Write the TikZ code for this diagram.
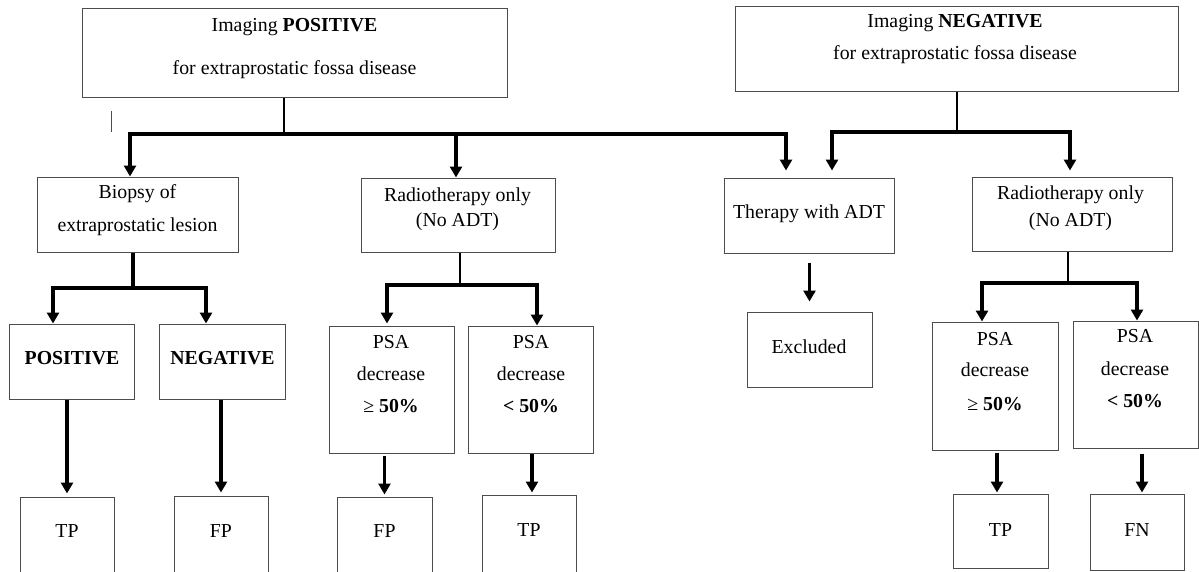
\documentclass[tikz,border=0pt]{standalone}
\usepackage{fontspec}
\setmainfont{Liberation Serif}
\usetikzlibrary{arrows.meta}
\begin{document}
\begin{tikzpicture}[x=1pt,y=-1pt,
  box/.style={draw=black!70, line width=1pt, inner sep=0pt},
  txt/.style={font=\fontsize{19.8}{22}\selectfont, inner sep=0pt, text height=13pt, text depth=4pt, anchor=center},
  arr/.style={line width=3.3pt, -{Triangle[length=11pt,width=12pt]}},
  stem/.style={line width=2.4pt},
  thinline/.style={line width=1pt, draw=black!70}]
\useasboundingbox (0,0) rectangle (1199,571);

% boxes
\node[box, minimum width=425pt, minimum height=89pt] (posimg) at (294.5,52.5) {};
\node[box, minimum width=443pt, minimum height=85pt] (negimg) at (956.5,48.5) {};
\node[box, minimum width=201pt, minimum height=75pt] (biopsy) at (137.5,214.5) {};
\node[box, minimum width=194pt, minimum height=74pt] (radio1) at (458,215) {};
\node[box, minimum width=170pt, minimum height=75pt] (adt) at (809,215.5) {};
\node[box, minimum width=200pt, minimum height=74pt] (radio2) at (1072,214) {};
\node[box, minimum width=125pt, minimum height=75pt] (pos) at (71.5,361.5) {};
\node[box, minimum width=126pt, minimum height=75pt] (neg) at (222,361.5) {};
\node[box, minimum width=125pt, minimum height=127pt] (psa1) at (391.5,389.5) {};
\node[box, minimum width=125pt, minimum height=127pt] (psa2) at (530.5,389.5) {};
\node[box, minimum width=125pt, minimum height=75pt] (excl) at (809.5,349.5) {};
\node[box, minimum width=126pt, minimum height=128pt] (psa3) at (995,386) {};
\node[box, minimum width=125pt, minimum height=127pt] (psa4) at (1135.5,384.5) {};
\node[box, minimum width=94pt, minimum height=75pt] (tp1) at (67,534.5) {};
\node[box, minimum width=94pt, minimum height=76pt] (fp1) at (221,534) {};
\node[box, minimum width=95pt, minimum height=75pt] (fp2) at (384.5,534.5) {};
\node[box, minimum width=94pt, minimum height=77pt] (tp2) at (529,533.5) {};
\node[box, minimum width=95pt, minimum height=74pt] (tp3) at (1000.5,531) {};
\node[box, minimum width=94pt, minimum height=76pt] (fn) at (1137,532) {};

% texts
\node[txt] (posimg-a) at (294.5,27) {Imaging \textbf{POSITIVE}};
\node[txt] (posimg-b) at (294.5,70) {for extraprostatic fossa disease};
\node[txt] (negimg-a) at (955,23) {Imaging \textbf{NEGATIVE}};
\node[txt] (negimg-b) at (955,55) {for extraprostatic fossa disease};
\node[txt] (biopsy-a) at (137.5,194) {Biopsy of};
\node[txt] (biopsy-b) at (137.5,227) {extraprostatic lesion};
\node[txt] (radio1-a) at (457.5,197) {Radiotherapy only};
\node[txt] (radio1-b) at (457.5,222) {(No ADT)};
\node[txt] (adt-a) at (809,214) {Therapy with ADT};
\node[txt] (radio2-a) at (1070.5,195) {Radiotherapy only};
\node[txt] (radio2-b) at (1070.5,222) {(No ADT)};
\node[txt] (pos-a) at (72,360) {\textbf{POSITIVE}};
\node[txt] (neg-a) at (222.5,360) {\textbf{NEGATIVE}};
\node[txt] (psa1-a) at (391,344) {PSA};
\node[txt] (psa1-b) at (391,376) {decrease};
\node[txt] (psa1-c) at (391,408) {≥ \textbf{50\%}};
\node[txt] (psa2-a) at (531,344) {PSA};
\node[txt] (psa2-b) at (531,376) {decrease};
\node[txt] (psa2-c) at (531,408) {\textbf{< 50\%}};
\node[txt] (excl-a) at (809,349) {Excluded};
\node[txt] (psa3-a) at (995,341) {PSA};
\node[txt] (psa3-b) at (995,372) {decrease};
\node[txt] (psa3-c) at (995,406) {≥ \textbf{50\%}};
\node[txt] (psa4-a) at (1135,338) {PSA};
\node[txt] (psa4-b) at (1135,371) {decrease};
\node[txt] (psa4-c) at (1135,403) {\textbf{< 50\%}};
\node[txt] (tp1-a) at (67,533) {TP};
\node[txt] (fp1-a) at (221,533) {FP};
\node[txt] (fp2-a) at (384.5,533) {FP};
\node[txt] (tp2-a) at (529,532) {TP};
\node[txt] (tp3-a) at (1000.5,532) {TP};
\node[txt] (fn-a) at (1137,532) {FN};

% stray mark
\draw[thinline] (111,111) -- (111,132);

% junction coordinates
\coordinate (j1) at (284,134);
\coordinate (j2) at (957,132);
\coordinate (j3) at (133,288);
\coordinate (j4) at (460,285);
\coordinate (j5) at (1068,283);

% positive imaging branch
\draw[stem] (j1 |- posimg.south) -- (j1);
\draw[arr] (j1) -| ([xshift=-7.5pt]biopsy.north);
\draw[arr, shorten >=7pt] (j1) -| ([xshift=-23pt]adt.north);
\draw[arr] ([xshift=-2pt]radio1.north |- j1) -- ([xshift=-2pt]radio1.north);

% negative imaging branch
\draw[stem] (j2 |- negimg.south) -- (j2);
\draw[arr, shorten >=7pt] (j2) -| ([xshift=23pt]adt.north);
\draw[arr, shorten >=6pt] (j2) -| ([xshift=-2pt]radio2.north);

% biopsy
\draw[line width=3.3pt] (j3 |- biopsy.south) -- (j3);
\draw[arr] (j3) -| ([xshift=-18.5pt]pos.north);
\draw[arr] (j3) -| ([xshift=-16pt]neg.north);

% radiotherapy 1
\draw[stem] (j4 |- radio1.south) -- (j4);
\draw[arr, shorten >=2pt] (j4) -| ([xshift=-4.5pt]psa1.north);
\draw[arr] (j4) -| ([xshift=6.5pt]psa2.north);

% radiotherapy 2
\draw[stem] (j5 |- radio2.south) -- (j5);
\draw[arr] (j5) -| ([xshift=-13pt]psa3.north);
\draw[arr] (j5) -| ([xshift=1.5pt]psa4.north);

% vertical arrows
\draw[arr, shorten >=3pt] (tp1.north |- pos.south) -- (tp1.north);
\draw[arr, shorten >=3pt] (fp1.north |- neg.south) -- (fp1.north);
\draw[arr, shorten <=2pt, shorten >=2pt] (fp2.north |- psa1.south) -- (fp2.north);
\draw[arr, shorten >=2pt] ([xshift=3pt]tp2.north |- psa2.south) -- ([xshift=3pt]tp2.north);
\draw[arr, shorten <=9pt, shorten >=10pt] (excl.north |- adt.south) -- (excl.north);
\draw[arr, shorten <=2pt, shorten >=1pt] ([xshift=-3.5pt]tp3.north |- psa3.south) -- ([xshift=-3.5pt]tp3.north);
\draw[arr, shorten <=5pt, shorten >=1pt] ([xshift=5pt]fn.north |- psa4.south) -- ([xshift=5pt]fn.north);
\end{tikzpicture}
\end{document}
